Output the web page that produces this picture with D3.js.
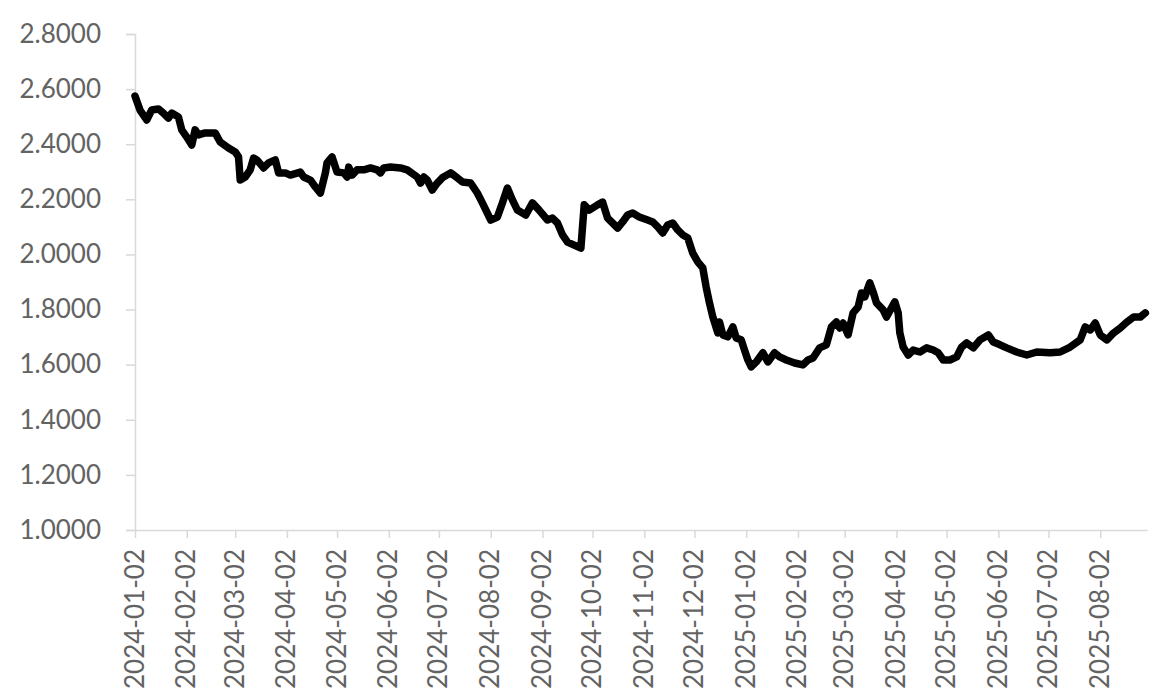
<!DOCTYPE html>
<html>
<head>
<meta charset="utf-8">
<script src="https://cdn.jsdelivr.net/npm/d3@7"></script>
<style>
  html, body { margin: 0; padding: 0; background: #fff; }
  svg { display: block; }
  .tick text { font-family: Lato, "Open Sans", sans-serif; fill: #636363; }
</style>
</head>
<body>
<svg id="chart" width="1161" height="699"></svg>
<script>
// ---- data ----
const dates = [
  "2024-01-02","2024-01-05","2024-01-09","2024-01-12","2024-01-16","2024-01-19","2024-01-22","2024-01-24","2024-01-28","2024-01-30",
  "2024-02-02","2024-02-05","2024-02-07","2024-02-09","2024-02-13","2024-02-19","2024-02-22","2024-02-27","2024-03-02","2024-03-04",
  "2024-03-05","2024-03-08","2024-03-11","2024-03-13","2024-03-15","2024-03-19","2024-03-22","2024-03-26","2024-03-28","2024-04-01",
  "2024-04-04","2024-04-10","2024-04-12","2024-04-16","2024-04-19","2024-04-22","2024-04-25","2024-04-26","2024-04-29","2024-05-02",
  "2024-05-06","2024-05-08","2024-05-09","2024-05-11","2024-05-14","2024-05-18","2024-05-22","2024-05-26","2024-05-28","2024-05-30",
  "2024-06-03","2024-06-09","2024-06-13","2024-06-19","2024-06-21","2024-06-23","2024-06-25","2024-06-28","2024-07-01","2024-07-04",
  "2024-07-09","2024-07-13","2024-07-16","2024-07-21","2024-07-25","2024-07-28","2024-08-02","2024-08-06","2024-08-09","2024-08-12",
  "2024-08-15","2024-08-18","2024-08-23","2024-08-27","2024-08-31","2024-09-05","2024-09-08","2024-09-11","2024-09-14","2024-09-17",
  "2024-09-21","2024-09-25","2024-09-27","2024-09-30","2024-10-05","2024-10-08","2024-10-11","2024-10-14","2024-10-17","2024-10-20",
  "2024-10-23","2024-10-26","2024-10-30","2024-11-04","2024-11-07","2024-11-10","2024-11-13","2024-11-16","2024-11-19","2024-11-22",
  "2024-11-25","2024-11-28","2024-12-01","2024-12-04","2024-12-07","2024-12-09","2024-12-11","2024-12-13","2024-12-16","2024-12-17",
  "2024-12-19","2024-12-22","2024-12-25","2024-12-27","2024-12-30","2025-01-01","2025-01-03","2025-01-05","2025-01-08","2025-01-12",
  "2025-01-15","2025-01-19","2025-01-22","2025-01-26","2025-01-31","2025-02-05","2025-02-08","2025-02-11","2025-02-15","2025-02-19",
  "2025-02-22","2025-02-25","2025-02-27","2025-03-01","2025-03-04","2025-03-07","2025-03-10","2025-03-12","2025-03-14","2025-03-17",
  "2025-03-19","2025-03-21","2025-03-25","2025-03-27","2025-03-30","2025-04-01","2025-04-03","2025-04-04","2025-04-06","2025-04-09",
  "2025-04-12","2025-04-16","2025-04-20","2025-04-24","2025-04-27","2025-04-30","2025-05-04","2025-05-08","2025-05-11","2025-05-14",
  "2025-05-18","2025-05-22","2025-05-27","2025-05-30","2025-06-03","2025-06-07","2025-06-13","2025-06-19","2025-06-25","2025-07-03",
  "2025-07-09","2025-07-15","2025-07-21","2025-07-24","2025-07-27","2025-07-30","2025-08-02","2025-08-06","2025-08-10","2025-08-14",
  "2025-08-18","2025-08-22","2025-08-26","2025-08-29"
];
const values = [
  2.575,2.524,2.488,2.524,2.528,2.513,2.495,2.513,2.499,2.452,
  2.426,2.397,2.452,2.434,2.441,2.441,2.408,2.386,2.372,2.354,
  2.270,2.281,2.307,2.350,2.343,2.314,2.332,2.343,2.296,2.296,
  2.288,2.299,2.281,2.270,2.245,2.223,2.296,2.332,2.354,2.299,
  2.296,2.281,2.317,2.288,2.307,2.307,2.314,2.307,2.296,2.314,
  2.317,2.314,2.307,2.281,2.259,2.281,2.270,2.234,2.259,2.278,
  2.296,2.278,2.263,2.259,2.223,2.187,2.125,2.136,2.187,2.241,
  2.198,2.161,2.143,2.187,2.161,2.125,2.132,2.114,2.071,2.045,
  2.034,2.023,2.180,2.161,2.180,2.190,2.132,2.114,2.096,2.118,
  2.143,2.150,2.136,2.125,2.118,2.100,2.078,2.107,2.114,2.089,
  2.071,2.060,2.005,1.973,1.951,1.882,1.824,1.773,1.715,1.755,
  1.708,1.701,1.737,1.697,1.690,1.653,1.617,1.592,1.610,1.643,
  1.610,1.643,1.628,1.617,1.606,1.599,1.617,1.624,1.661,1.672,
  1.737,1.755,1.733,1.751,1.708,1.788,1.809,1.860,1.846,1.897,
  1.864,1.824,1.799,1.773,1.806,1.828,1.788,1.715,1.664,1.635,
  1.653,1.646,1.661,1.653,1.643,1.617,1.617,1.628,1.664,1.679,
  1.661,1.690,1.708,1.682,1.672,1.661,1.646,1.635,1.646,1.643,
  1.646,1.664,1.690,1.737,1.726,1.751,1.708,1.690,1.715,1.733,
  1.755,1.773,1.773,1.788
];
const yTicks = [1.0,1.2,1.4,1.6,1.8,2.0,2.2,2.4,2.6,2.8];
const xTickLabels = [
  "2024-01-02","2024-02-02","2024-03-02","2024-04-02","2024-05-02","2024-06-02","2024-07-02",
  "2024-08-02","2024-09-02","2024-10-02","2024-11-02","2024-12-02","2025-01-02","2025-02-02",
  "2025-03-02","2025-04-02","2025-05-02","2025-06-02","2025-07-02","2025-08-02"
];
const xDomain = ["2024-01-02","2025-08-30"];

// ---- chart ----
(function () {
const parse = d3.timeParse("%Y-%m-%d");
const data = dates.map((d,i) => ({date: parse(d), value: values[i]}));

const svg = d3.select("#chart");
const mLeft = 135, mRight = 1147, mTop = 34, mBottom = 530;

const x = d3.scaleTime().domain(xDomain.map(parse)).range([mLeft, mRight]);
const y = d3.scaleLinear().domain([1.0, 2.8]).range([mBottom, mTop]);

// Y axis
const yAxis = d3.axisLeft(y).tickValues(yTicks).tickFormat(d3.format(".4f")).tickSize(9).tickPadding(25);
const gy = svg.append("g").attr("transform", `translate(${mLeft},0)`).call(yAxis);
gy.select(".domain").attr("stroke", "#d9d9d9").attr("stroke-width", 1.5);
gy.selectAll(".tick line").attr("stroke", "#d9d9d9").attr("stroke-width", 1.5);
gy.selectAll(".tick text").style("font-size", "26px");

// X axis
const xAxis = d3.axisBottom(x).tickValues(xTickLabels.map(parse)).tickFormat(d3.timeFormat("%Y-%m-%d")).tickSize(8).tickSizeOuter(0);
const gx = svg.append("g").attr("transform", `translate(0,${mBottom})`).call(xAxis);
gx.select(".domain").attr("stroke", "#d9d9d9").attr("stroke-width", 1.5);
gx.selectAll(".tick line").attr("stroke", "#d9d9d9").attr("stroke-width", 1.5);
gx.selectAll(".tick text")
  .style("font-size", "26px")
  .attr("text-anchor", "end")
  .attr("dy", null)
  .attr("dominant-baseline", "central")
  .attr("transform", "rotate(-90)")
  .attr("x", -19)
  .attr("y", -2);

// Line
const line = d3.line().x(d => x(d.date)).y(d => y(d.value)).curve(d3.curveLinear);
svg.append("path")
  .datum(data)
  .attr("fill", "none")
  .attr("stroke", "#000")
  .attr("stroke-width", 7.5)
  .attr("stroke-linejoin", "round")
  .attr("stroke-linecap", "round")
  .attr("d", line);
})();
</script>
</body>
</html>
